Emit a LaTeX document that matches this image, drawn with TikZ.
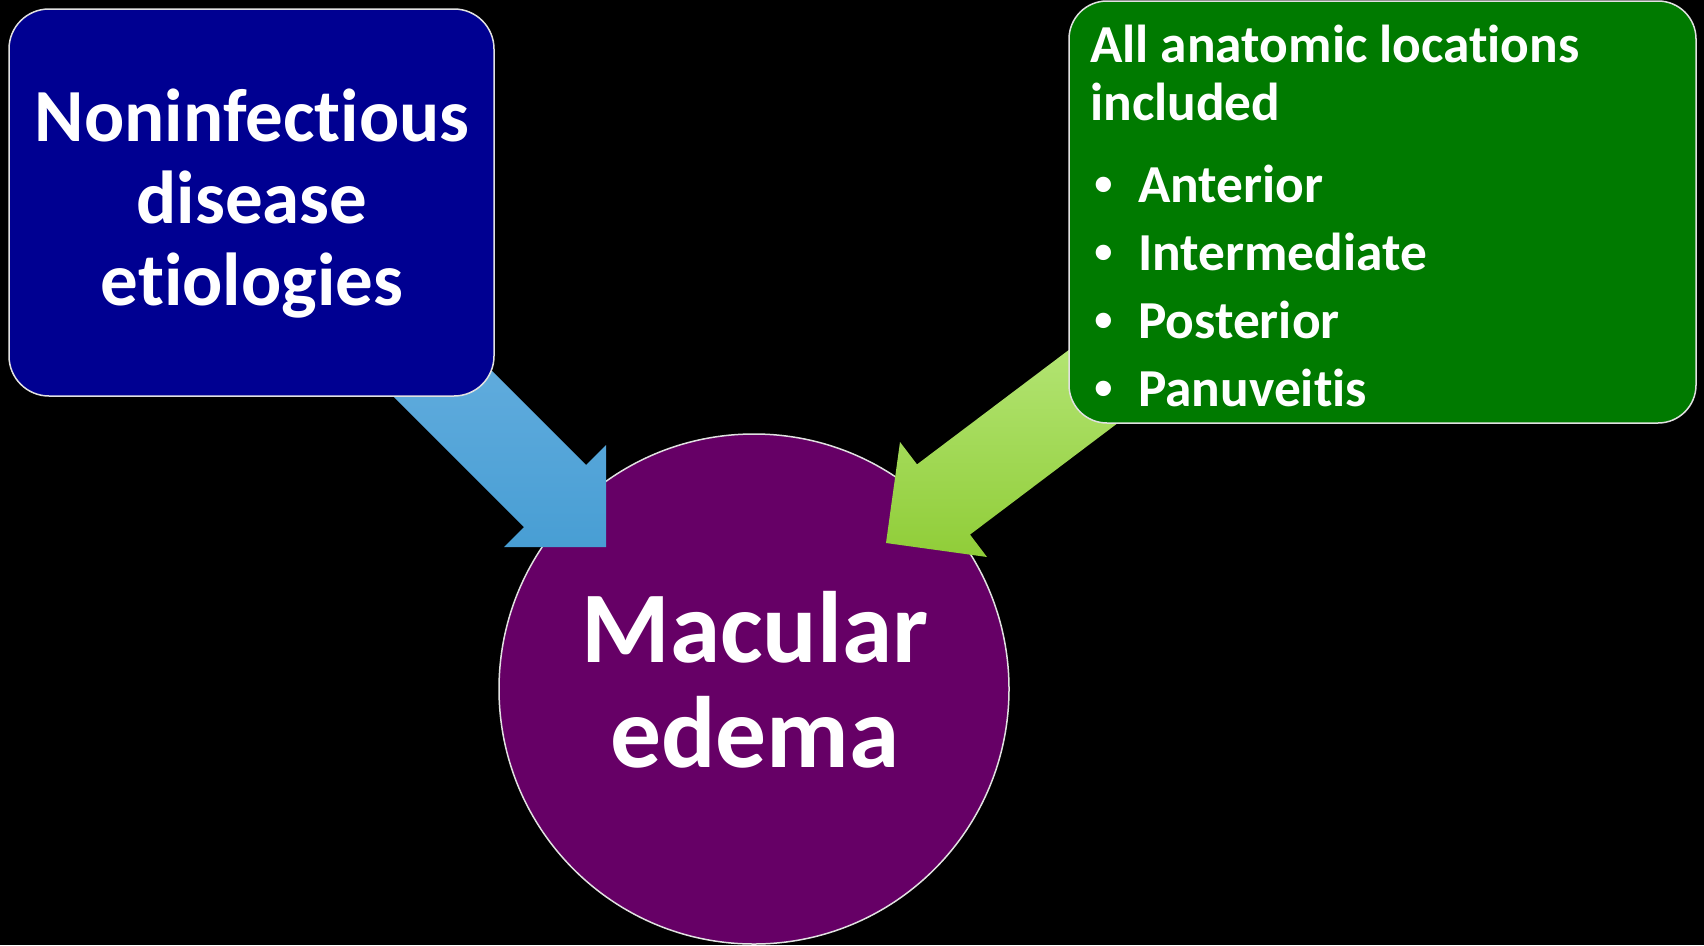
\documentclass[tikz,border=0pt]{standalone}
\usepackage{fontspec}
\setmainfont{Carlito}[Ligatures={NoCommon}]
\newfontfamily\bulfont{Liberation Sans}
\definecolor{boxblue}{RGB}{0,0,145}
\definecolor{boxgreen}{RGB}{0,122,0}
\definecolor{circpurple}{RGB}{102,0,102}
\definecolor{outl}{RGB}{225,225,225}
\definecolor{arrblueT}{RGB}{104,176,224}
\definecolor{arrblueB}{RGB}{72,158,212}
\definecolor{arrgreenT}{RGB}{184,232,124}
\definecolor{arrgreenB}{RGB}{144,205,56}
\tikzset{
  boxshape/.style={draw=outl, line width=1.5pt, rounded corners=40pt},
  whitetext/.style={text=white, font=\bfseries, inner sep=0pt},
  blockarrow/.style={draw=none},
}
\begin{document}
\begin{tikzpicture}[x=1pt,y=-1pt]
\fill[black] (0,0) rectangle (1704,945);
\useasboundingbox (0,0) rectangle (1704,945);

% circle
\node[circle, fill=circpurple, draw=outl, line width=1.5pt, minimum size=510pt, inner sep=0pt] (circ) at (754,689) {};
\node[whitetext, align=center, font=\bfseries\fontsize{101.5}{105}\selectfont, anchor=base] (mac) at (755,767) {Macular\\edema};

% blue arrow
\coordinate (bS1) at (426,305);
\coordinate (bS2) at (364,367);
\coordinate (bN1) at (586,465);
\coordinate (bN2) at (524,527);
\coordinate (bB1) at (606,445);
\coordinate (bB2) at (504,547);
\coordinate (bT) at (606,547);
\shade[blockarrow, top color=arrblueT, bottom color=arrblueB]
  (bS1) -- (bN1) -- (bB1) -- (bT) -- (bB2) -- (bN2) -- (bS2) -- cycle;

% green arrow
\coordinate (gS1) at (1116.5,314);
\coordinate (gS2) at (1169.5,384);
\coordinate (gN1) at (917,464.4);
\coordinate (gN2) at (970,534.6);
\coordinate (gB1) at (900,442);
\coordinate (gB2) at (987,557);
\coordinate (gT) at (886,543);
\shade[blockarrow, top color=arrgreenT, bottom color=arrgreenB]
  (gS1) -- (gN1) -- (gB1) -- (gT) -- (gB2) -- (gN2) -- (gS2) -- cycle;

% blue box
\draw[boxshape, fill=boxblue] (9,9) rectangle (494,396);
\node[whitetext, align=center, font=\bfseries\fontsize{75}{82}\selectfont, anchor=base] (bt) at (252,305) {Noninfectious\\disease\\etiologies};

% green box
\draw[boxshape, fill=boxgreen, rounded corners=38pt] (1069,1) rectangle (1696,423);
\node[whitetext, align=left, font=\bfseries\fontsize{53.4}{58}\selectfont, anchor=base west] (gh) at (1090,120) {All anatomic locations\\included};
\node[whitetext, align=left, font=\bfseries\fontsize{53.4}{68}\selectfont, anchor=base west] (gl) at (1138,406)
  {\llap{{\bulfont •}\hspace{25pt}}Anterior\\
   \llap{{\bulfont •}\hspace{25pt}}Intermediate\\
   \llap{{\bulfont •}\hspace{25pt}}Posterior\\
   \llap{{\bulfont •}\hspace{25pt}}Panuveitis};
\end{tikzpicture}
\end{document}
